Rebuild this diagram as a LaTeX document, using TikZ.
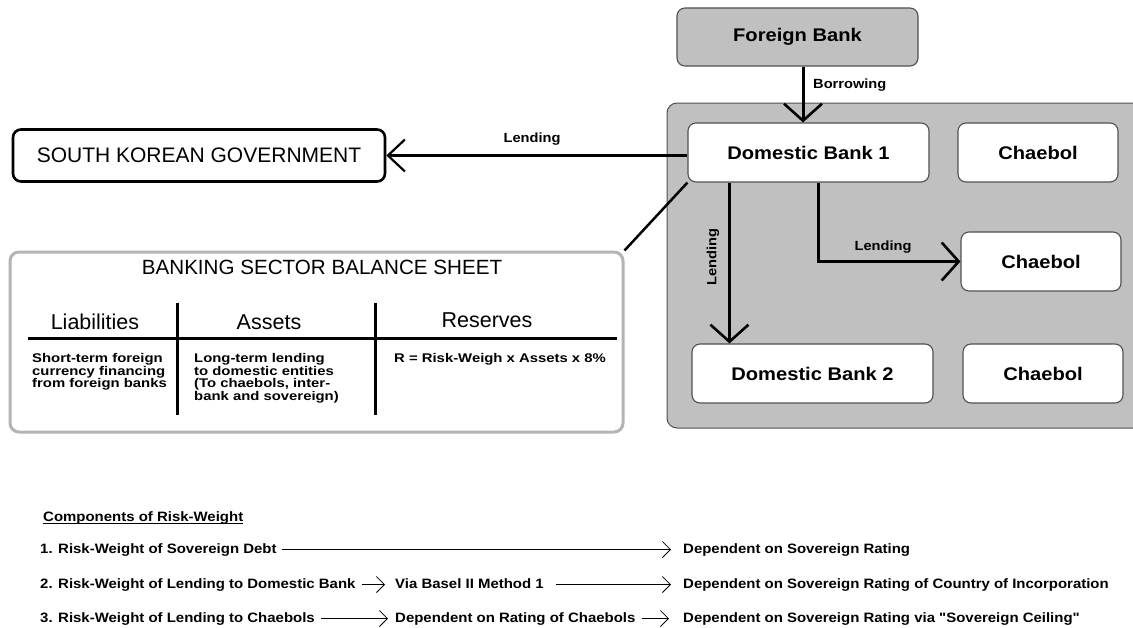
\documentclass[tikz,border=0pt]{standalone}
\usepackage{fontspec}
\setmainfont{Liberation Sans}
\newfontfamily\widefont[FakeStretch=1.1]{Liberation Sans}
\newfontfamily\bodyfont[FakeStretch=1.18]{Liberation Sans}
\usetikzlibrary{arrows.meta}
\definecolor{boxgray}{RGB}{192,192,192}
\definecolor{edgegray}{RGB}{80,80,80}
\definecolor{sheetgray}{RGB}{180,180,180}
\begin{document}
\begin{tikzpicture}[x=1pt,y=-1pt,
  bank/.style={draw=edgegray, line width=1.1pt, fill=white, rounded corners=8pt,
    minimum height=59pt, inner sep=0pt, font=\widefont\fontsize{18.3}{20}\selectfont\bfseries},
  lab/.style={font=\widefont\fontsize{13.3}{15}\selectfont\bfseries, inner sep=0pt},
  small/.style={font=\widefont\fontsize{13.6}{15}\selectfont\bfseries, inner sep=0pt, anchor=base west,
    text height=10pt, text depth=3pt},
  body/.style={font=\bodyfont\fontsize{12.6}{12.8}\selectfont\bfseries, inner sep=0pt, anchor=north west, align=left},
  head/.style={font=\fontsize{21.5}{24}\selectfont, inner sep=0pt},
  bigbarb/.style={-{Straight Barb[length=17pt,width=38pt,line width=2.6pt]}, line width=3pt},
  govbarb/.style={-{Straight Barb[length=17pt,width=32pt,line width=2.2pt]}, line width=2.6pt},
  thinbarb/.style={-{Straight Barb[length=8pt,width=16pt,line width=0.8pt]}, line width=1.5pt},
]
\useasboundingbox (0,0) rectangle (1133,627);
\clip (0,0) rectangle (1133,627);
\fill[white] (0,0) rectangle (1133,627);

% gray container
\node[draw=edgegray, line width=1pt, fill=boxgray, rounded corners=10pt,
  minimum width=480pt, minimum height=325pt, inner sep=0pt] (sector) at (907,265.5) {};

% foreign bank
\node[bank, fill=boxgray, minimum width=241pt, minimum height=58pt] (fb) at (797.5,37) {Foreign Bank};

% boxes inside
\node[bank, minimum width=241pt] (db1) at (808.5,152.5) {Domestic Bank 1};
\node[bank, minimum width=160pt] (ch1) at (1038,152.5) {Chaebol};
\node[bank, minimum width=160pt] (ch2) at (1041,261.5) {Chaebol};
\node[bank, minimum width=241pt] (db2) at (812.5,373.5) {Domestic Bank 2};
\node[bank, minimum width=160pt] (ch3) at (1043,373.5) {Chaebol};

% government
\node[draw=black, line width=2.6pt, rounded corners=8pt, minimum width=372pt, minimum height=52pt,
  inner sep=0pt, font=\fontsize{21}{24}\selectfont] (gov) at (199,155.5) {SOUTH KOREAN GOVERNMENT};

% balance sheet
\node[draw=sheetgray, line width=3pt, rounded corners=9pt, minimum width=613pt, minimum height=180pt,
  inner sep=0pt] (bs) at (316.5,342) {};
\node[font=\fontsize{20.6}{24}\selectfont, inner sep=0pt] (bstitle) at (322,267) {BANKING SECTOR BALANCE SHEET};
\draw[line width=3pt] (28,338) -- (617,338);
\draw[line width=3pt] (177,303) -- (177,415);
\draw[line width=3pt] (375,303) -- (375,415);
\node[head] (hl) at (95,322) {Liabilities};
\node[head] (ha) at (269,322) {Assets};
\node[head] (hr) at (487,320) {Reserves};
\node[body] (tl) at (32,353) {Short-term foreign\\currency financing\\from foreign banks};
\node[body] (ta) at (194,353) {Long-term lending\\to domestic entities\\(To chaebols, inter-\\bank and sovereign)};
\node[body] (tr) at (394,353) {R = Risk-Weigh x Assets x 8\%};

% connectors
\draw[bigbarb] ([xshift=5.5pt]fb.south) -- ([xshift=-5.5pt]db1.north);
\node[lab, anchor=west] (lborrow) at (813,85) {Borrowing};
\draw[govbarb] (gov.east -| db1.west) -- (gov.east);
\node[lab] (lgov) at (532,139) {Lending};
\draw[bigbarb] ([xshift=42pt]db1.south west) -- ([xshift=42pt]db1.south west |- db2.north);
\node[lab, rotate=90] (lvert) at (713,257) {Lending};
\draw[bigbarb] ([xshift=131pt]db1.south west) |- (ch2.west);
\node[lab] (lelbow) at (883,247) {Lending};
\draw[line width=2.5pt] (db1.south west) -- (bs.north east);

% components
\node[small] (comp) at (43,521) {Components of Risk-Weight};
\draw[line width=1pt] ([yshift=-2pt]comp.base west) -- ([yshift=-2pt]comp.base east);

\node[small] (r1a) at (40,553) {1. Risk-Weight of Sovereign Debt};
\node[small] (r1c) at (683,553) {Dependent on Sovereign Rating};
\draw[thinbarb, shorten <=5pt, shorten >=12pt] (r1a.east) -- (r1c.west);

\node[small] (r2a) at (40,588) {2. Risk-Weight of Lending to Domestic Bank};
\node[small] (r2b) at (395,588) {Via Basel II Method 1};
\node[small] (r2c) at (683,588) {Dependent on Sovereign Rating of Country of Incorporation};
\draw[thinbarb, shorten <=6pt, shorten >=10pt] (r2a.east) -- (r2b.west);
\draw[thinbarb, shorten <=12pt, shorten >=12pt] (r2b.east) -- (r2c.west);

\node[small] (r3a) at (40,622) {3. Risk-Weight of Lending to Chaebols};
\node[small] (r3b) at (395,622) {Dependent on Rating of Chaebols};
\node[small] (r3c) at (683,622) {Dependent on Sovereign Rating via "Sovereign Ceiling"};
\draw[thinbarb, shorten <=6pt, shorten >=7pt] (r3a.east) -- (r3b.west);
\draw[thinbarb, shorten <=6pt, shorten >=14pt] (r3b.east) -- (r3c.west);
\end{tikzpicture}
\end{document}
